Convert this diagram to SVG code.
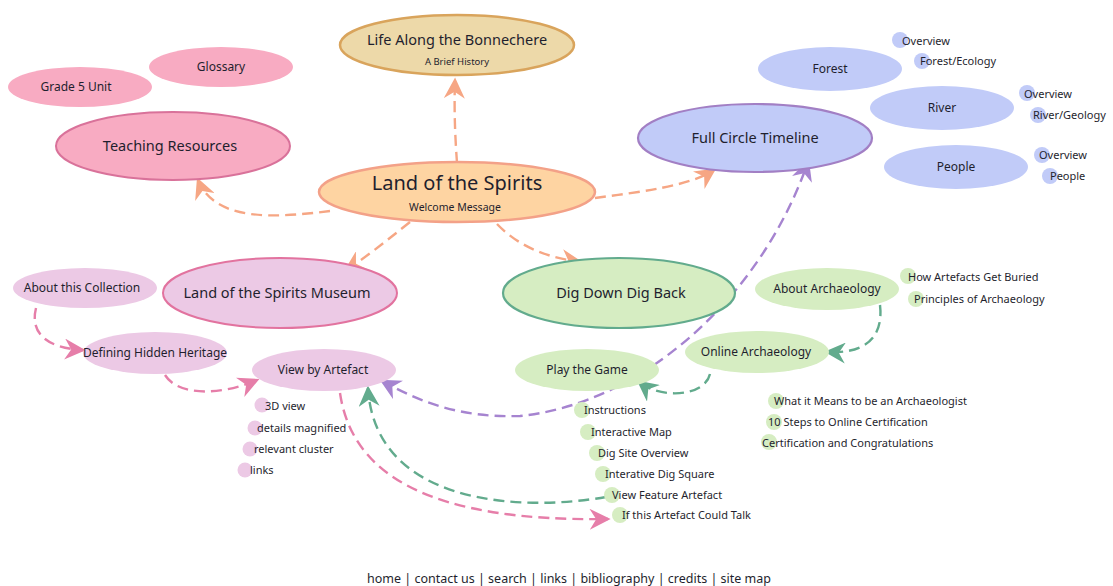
<svg xmlns="http://www.w3.org/2000/svg" width="1113" height="586" viewBox="0 0 1113 586">
<defs>
<style>
text{font-family:"Noto Sans","DejaVu Sans",sans-serif;fill:#1f1f2e;text-anchor:middle}
.t{font-size:12px}
.s{font-size:11px;text-anchor:start}
.b{font-size:14.5px}
.xl{font-size:20px}
.tiny{font-size:10.5px}
.c{fill:none;stroke-width:2.4;stroke-dasharray:11 6}
.or{stroke:#f6a684}
.pu{stroke:#a684d0}
.pk{stroke:#e67ea9}
.gr{stroke:#62ab8d}
.pinkf{fill:#f8abc2}
.bluef{fill:#c1cbf8}
.mauvef{fill:#ecc9e5}
.greenf{fill:#d6edc2}
</style>
<marker id="aor" viewBox="0 0 16 16" markerWidth="21" markerHeight="21" refX="14" refY="8" orient="auto" markerUnits="userSpaceOnUse"><path d="M0,0 L16,8 L0,16 L5,8 z" fill="#f6a684"/></marker>
<marker id="apu" viewBox="0 0 16 16" markerWidth="21" markerHeight="21" refX="14" refY="8" orient="auto-start-reverse" markerUnits="userSpaceOnUse"><path d="M0,0 L16,8 L0,16 L5,8 z" fill="#a684d0"/></marker>
<marker id="apk" viewBox="0 0 16 16" markerWidth="21" markerHeight="21" refX="14" refY="8" orient="auto" markerUnits="userSpaceOnUse"><path d="M0,0 L16,8 L0,16 L5,8 z" fill="#e67ea9"/></marker>
<marker id="agr" viewBox="0 0 16 16" markerWidth="21" markerHeight="21" refX="14" refY="8" orient="auto" markerUnits="userSpaceOnUse"><path d="M0,0 L16,8 L0,16 L5,8 z" fill="#62ab8d"/></marker>
</defs>
<rect width="1113" height="586" fill="#ffffff"/>

<g id="connectors">
<path class="c or" d="M457,163 C455,135 454,110 455,80" marker-end="url(#aor)"/>
<path class="c or" d="M330,211 C275,218 215,222 198,180" marker-end="url(#aor)"/>
<path class="c or" d="M595,198 C640,192 690,186 714,170" marker-end="url(#aor)"/>
<path class="c or" d="M410,222 C385,242 365,258 346,270" marker-end="url(#aor)"/>
<path class="c or" d="M497,224 C520,248 550,258 580,262" marker-end="url(#aor)"/>
<path class="c pu" d="M382,381 C420,402 460,418 520,416 C640,404 760,300 808,162" marker-start="url(#apu)" marker-end="url(#apu)"/>
<path class="c pk" d="M36,308 C30,332 45,348 83,350" marker-end="url(#apk)"/>
<path class="c pk" d="M165,375 C178,396 220,396 257,380" marker-end="url(#apk)"/>
<path class="c pk" d="M340,393 C352,475 430,522 608,519" marker-end="url(#apk)"/>
<path class="c gr" d="M606,497 C520,512 375,505 368,388" marker-end="url(#agr)"/>
<path class="c gr" d="M880,305 C884,340 862,354 827,352" marker-end="url(#agr)"/>
<path class="c gr" d="M710,374 C705,396 662,400 639,382" marker-end="url(#agr)"/>
</g>

<g id="center">
<ellipse cx="457" cy="192" rx="138" ry="30" fill="#fed4a2" stroke="#f3a188" stroke-width="2.5"/>
<text class="xl" x="457" y="190">Land of the Spirits</text>
<text class="tiny" x="455" y="211">Welcome Message</text>
</g>
<g id="life-along">
<ellipse cx="457" cy="45" rx="117" ry="30" fill="#edd9a9" stroke="#d9a45c" stroke-width="2.5"/>
<text class="b" x="457" y="45">Life Along the Bonnechere</text>
<text x="457" y="65" style="font-size:9.5px">A Brief History</text>
</g>
<g id="glossary">
<ellipse class="pinkf" cx="221" cy="67" rx="72" ry="20"/>
<text class="t" x="221" y="71">Glossary</text>
</g>
<g id="grade5">
<ellipse class="pinkf" cx="80" cy="87" rx="72" ry="20"/>
<text class="t" x="76" y="91">Grade 5 Unit</text>
</g>
<g id="teaching">
<ellipse class="pinkf" cx="173" cy="146" rx="117" ry="34" stroke="#d9729a" stroke-width="2"/>
<text class="b" x="170" y="151">Teaching Resources</text>
</g>
<g id="timeline">
<ellipse class="bluef" cx="755" cy="138" rx="117" ry="34" stroke="#a27fc4" stroke-width="2.2"/>
<text class="b" x="755" y="143">Full Circle Timeline</text>
</g>
<g id="forest">
<ellipse class="bluef" cx="830" cy="69" rx="72" ry="22"/>
<text class="t" x="830" y="73">Forest</text>
<circle class="bluef" cx="900" cy="40" r="8"/>
<text class="s" x="902" y="45">Overview</text>
<circle class="bluef" cx="922" cy="61" r="8"/>
<text class="s" x="920" y="65">Forest/Ecology</text>
</g>
<g id="river">
<ellipse class="bluef" cx="942" cy="108" rx="72" ry="22"/>
<text class="t" x="942" y="112">River</text>
<circle class="bluef" cx="1027" cy="93" r="8"/>
<text class="s" x="1024" y="98">Overview</text>
<circle class="bluef" cx="1038" cy="115" r="8"/>
<text class="s" x="1033" y="119">River/Geology</text>
</g>
<g id="people">
<ellipse class="bluef" cx="956" cy="167" rx="72" ry="22"/>
<text class="t" x="956" y="171">People</text>
<circle class="bluef" cx="1042" cy="155" r="8"/>
<text class="s" x="1039" y="159">Overview</text>
<circle class="bluef" cx="1050" cy="176" r="8"/>
<text class="s" x="1050" y="180">People</text>
</g>
<g id="museum">
<ellipse class="mauvef" cx="280" cy="293" rx="117" ry="35" stroke="#e2739f" stroke-width="2"/>
<text class="b" x="277" y="298">Land of the Spirits Museum</text>
</g>
<g id="about-collection">
<ellipse class="mauvef" cx="85" cy="288" rx="72" ry="20"/>
<text class="t" x="82" y="292">About this Collection</text>
</g>
<g id="defining">
<ellipse class="mauvef" cx="155" cy="353" rx="72" ry="21"/>
<text class="t" x="155" y="357">Defining Hidden Heritage</text>
</g>
<g id="view-artefact">
<ellipse class="mauvef" cx="324" cy="370" rx="72" ry="21"/>
<text class="t" x="323" y="374">View by Artefact</text>
<circle class="mauvef" cx="262" cy="405" r="7.5"/>
<text class="s" x="265" y="410">3D view</text>
<circle class="mauvef" cx="255" cy="428" r="7.5"/>
<text class="s" x="257" y="432">details magnified</text>
<circle class="mauvef" cx="250" cy="449" r="7.5"/>
<text class="s" x="254" y="453">relevant cluster</text>
<circle class="mauvef" cx="245" cy="470" r="7.5"/>
<text class="s" x="250" y="474">links</text>
</g>
<g id="dig-down">
<ellipse class="greenf" cx="619" cy="293" rx="116" ry="35" stroke="#62ab8d" stroke-width="2.2"/>
<text class="b" x="621" y="298">Dig Down Dig Back</text>
</g>
<g id="about-arch">
<ellipse class="greenf" cx="827" cy="289" rx="72" ry="21"/>
<text class="t" x="827" y="293">About Archaeology</text>
<circle class="greenf" cx="908" cy="276" r="8"/>
<text class="s" x="908" y="281">How Artefacts Get Buried</text>
<circle class="greenf" cx="916" cy="299" r="8"/>
<text class="s" x="914" y="303">Principles of Archaeology</text>
</g>
<g id="online-arch">
<ellipse class="greenf" cx="757" cy="352" rx="72" ry="21"/>
<text class="t" x="756" y="356">Online Archaeology</text>
<circle class="greenf" cx="776" cy="401" r="8"/>
<text class="s" x="774" y="405">What it Means to be an Archaeologist</text>
<circle class="greenf" cx="774" cy="422" r="8"/>
<text class="s" x="768" y="426">10 Steps to Online Certification</text>
<circle class="greenf" cx="769" cy="442" r="8"/>
<text class="s" x="762" y="447">Certification and Congratulations</text>
</g>
<g id="play-game">
<ellipse class="greenf" cx="587" cy="370" rx="72" ry="21"/>
<text class="t" x="587" y="374">Play the Game</text>
<circle class="greenf" cx="582" cy="410" r="8"/>
<text class="s" x="584" y="414">Instructions</text>
<circle class="greenf" cx="588" cy="432" r="8"/>
<text class="s" x="591" y="436">Interactive Map</text>
<circle class="greenf" cx="597" cy="453" r="8"/>
<text class="s" x="598" y="457">Dig Site Overview</text>
<circle class="greenf" cx="603" cy="474" r="8"/>
<text class="s" x="605" y="478">Interative Dig Square</text>
<circle class="greenf" cx="612" cy="495" r="8"/>
<text class="s" x="612" y="499">View Feature Artefact</text>
<circle class="greenf" cx="620" cy="515" r="8"/>
<text class="s" x="622" y="519">If this Artefact Could Talk</text>
</g>
<g id="footer">
<text x="569" y="583" style="font-size:12.5px">home | contact us | search | links | bibliography | credits | site map</text>
</g>
</svg>
